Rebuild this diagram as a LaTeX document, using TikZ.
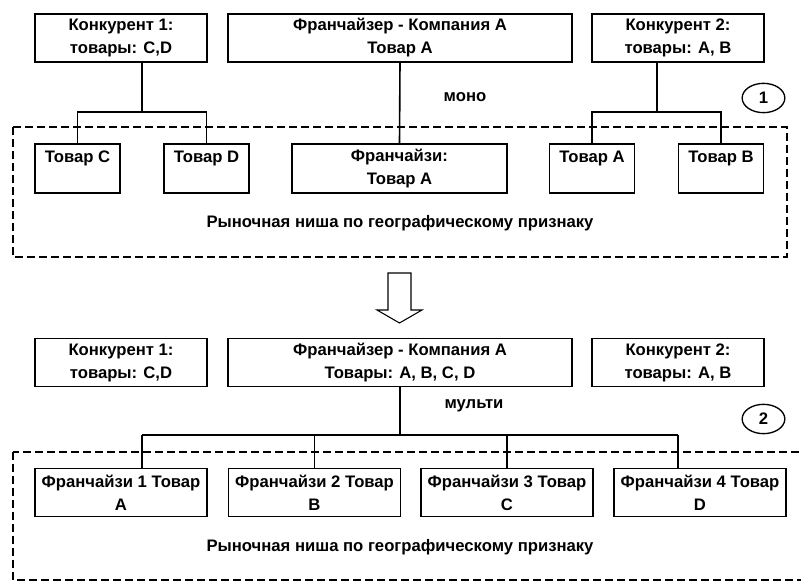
\documentclass[tikz,border=0pt]{standalone}
\usepackage{fontspec}
\setmainfont{Liberation Sans}
\usetikzlibrary{shapes.geometric}

\tikzset{
  box/.style={draw, line width=1.2pt, align=center, inner sep=0pt,
    minimum width=129pt, minimum height=36pt,
    font=\fontsize{12.5}{17.25}\selectfont\bfseries},
  goods/.style={box, minimum width=63.75pt, minimum height=36.75pt},
  niche/.style={line width=2pt, dash pattern=on 6pt off 3pt},
  link/.style={line width=1.2pt},
  caption/.style={inner sep=0pt, font=\fontsize{12.5}{14}\selectfont\bfseries},
  stage/.style={draw, ellipse, line width=1pt, inner sep=0pt,
    minimum width=32pt, minimum height=22pt,
    font=\fontsize{12.5}{14}\selectfont\bfseries}
}

\begin{document}
\begin{tikzpicture}[x=0.75pt, y=-0.75pt]
	\useasboundingbox (0,0) rectangle (801,581);

	% top: mono
	\node[box] (k1) at (121,38) {Конкурент 1:\\товары: C,D};
	\node[box, minimum width=258pt] (fr) at (400,38) {Франчайзер - Компания A\\Товар A};
	\node[box] (k2) at (678,38) {Конкурент 2:\\товары: A, B};
	\node[caption] (mono) at (465,97) {моно};
	\node[stage] (s1) at (763.5,98) {1};

	% niche 1
	\draw[niche] (13,127) rectangle (787,257);
	\node[goods] (tc) at (77.5,168.5) {Товар C\\\mbox{}};
	\node[goods] (td) at (206.5,168.5) {Товар D\\\mbox{}};
	\node[box, minimum width=161.25pt, minimum height=36.75pt] (fz) at (399.5,168.5) {Франчайзи:\\Товар A};
	\node[goods] (ta) at (592,168.5) {Товар A\\\mbox{}};
	\node[goods] (tb) at (721,168.5) {Товар B\\\mbox{}};
	\node[caption] (n1) at (400,223) {Рыночная ниша по географическому признаку};

	% links
	\coordinate (j1) at (142,112);
	\coordinate (j2) at (657,112);
	\draw[link] (k1.south -| j1) -- (j1);
	\draw[link] (tc.north) |- (j1) -| (td.north);
	\draw[link] (fr.south) -- (fz.north);
	\draw[link] (k2.south -| j2) -- (j2);
	\draw[link] (ta.north) |- (j2) -| (tb.north);

	% transition
	\draw[line width=0.8pt] (388,273) -- (411,273) -- (411,310) -- (422,310)
		-- (399.5,323) -- (377,310) -- (388,310) -- cycle;

	% bottom: multi
	\node[box] (k1b) at (121,362.5) {Конкурент 1:\\товары: C,D};
	\node[box, minimum width=258pt] (frb) at (400,362.5) {Франчайзер - Компания A\\Товары: A, B, C, D};
	\node[box] (k2b) at (678,362.5) {Конкурент 2:\\товары: A, B};
	\node[caption] (multi) at (474,406) {мульти};
	\node[stage] (s2) at (763.5,419) {2};

	% niche 2
	\draw[niche] (13,452) rectangle (830,580);
	\foreach \x/\n/\g in {121/1/A, 314.5/2/B, 507/3/C, 700/4/D}
		\node[box] (f\n) at (\x,492.5) {Франчайзи \n{} Товар\\\g};
	\node[caption] (n2) at (400,547) {Рыночная ниша по географическому признаку};

	% bus
	\foreach \x/\n in {142/1, 314.5/2, 507/3, 678/4}
		\coordinate (t\n) at (\x,435);
	\draw[link] (frb.south) -- (frb.south |- t1);
	\draw[link] (t1) -- (t4);
	\foreach \n in {1,...,4}
		\draw[link] (t\n) -- (t\n |- f\n.north);

\end{tikzpicture}
\end{document}
